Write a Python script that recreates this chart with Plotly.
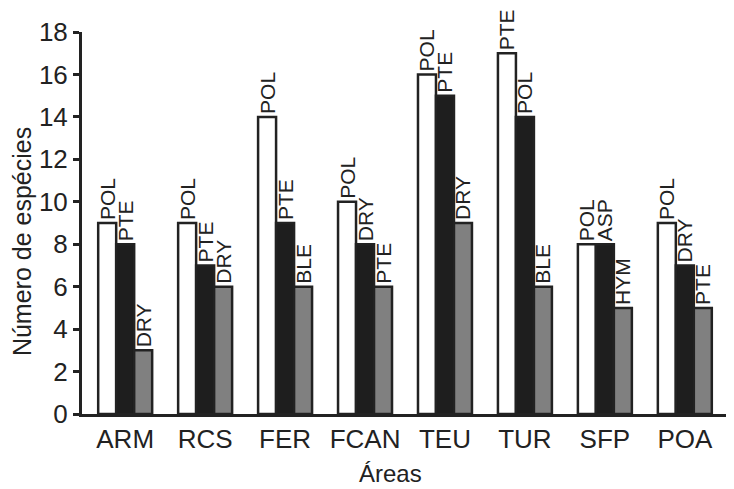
import plotly.graph_objects as go

areas = ["ARM", "RCS", "FER", "FCAN", "TEU", "TUR", "SFP", "POA"]

first_vals = [9, 9, 14, 10, 16, 17, 8, 9]
first_labels = ["POL", "POL", "POL", "POL", "POL", "PTE", "POL", "POL"]

second_vals = [8, 7, 9, 8, 15, 14, 8, 7]
second_labels = ["PTE", "PTE", "PTE", "DRY", "PTE", "POL", "ASP", "DRY"]

third_vals = [3, 6, 6, 6, 9, 6, 5, 5]
third_labels = ["DRY", "DRY", "BLE", "PTE", "DRY", "BLE", "HYM", "PTE"]

y_ticks = [0, 2, 4, 6, 8, 10, 12, 14, 16, 18]

FONT = "Liberation Sans, Arial, sans-serif"
INK = "#222222"

fig = go.Figure()
for vals, labels, color in [
    (first_vals, first_labels, "#ffffff"),
    (second_vals, second_labels, "#1e1e1e"),
    (third_vals, third_labels, "#808080"),
]:
    fig.add_trace(go.Bar(
        x=areas, y=vals, text=labels,
        textposition="outside", textangle=-90,
        textfont=dict(family=FONT, size=21, color=INK),
        constraintext="none", cliponaxis=False,
        marker=dict(color=color, line=dict(color=INK, width=2.5)),
        showlegend=False, hoverinfo="skip",
    ))

# page body adds an 8px offset, so the figure is sized to the visible area
fig.update_layout(
    width=726, height=481,
    margin=dict(l=74, r=2, t=24, b=75, autoexpand=False),
    paper_bgcolor="white", plot_bgcolor="white",
    barmode="group", bargap=0.325, bargroupgap=0,
    font=dict(family=FONT, color=INK),
    xaxis=dict(
        range=[-0.54, 7.59], showline=True, linecolor=INK, linewidth=2.5,
        ticks="", tickfont=dict(size=26, color=INK), showgrid=False,
        zeroline=False, automargin=False,
    ),
    yaxis=dict(
        range=[0, 18], tickvals=y_ticks, showline=True, linecolor=INK,
        linewidth=3, ticks="outside", ticklen=6, tickwidth=2.5, tickcolor=INK,
        tickfont=dict(size=26, color=INK), showgrid=False, zeroline=False,
        automargin=False,
    ),
    annotations=[
        dict(text="Número de espécies", textangle=-90, xref="paper", yref="paper",
             x=-0.0923, y=0.45, xanchor="center", yanchor="middle",
             showarrow=False, font=dict(size=25, color=INK)),
        dict(text="Áreas", xref="paper", yref="paper",
             x=0.474, y=-0.155, xanchor="center", yanchor="middle",
             showarrow=False, font=dict(size=24, color=INK)),
    ],
)

fig.write_html("out.html")
